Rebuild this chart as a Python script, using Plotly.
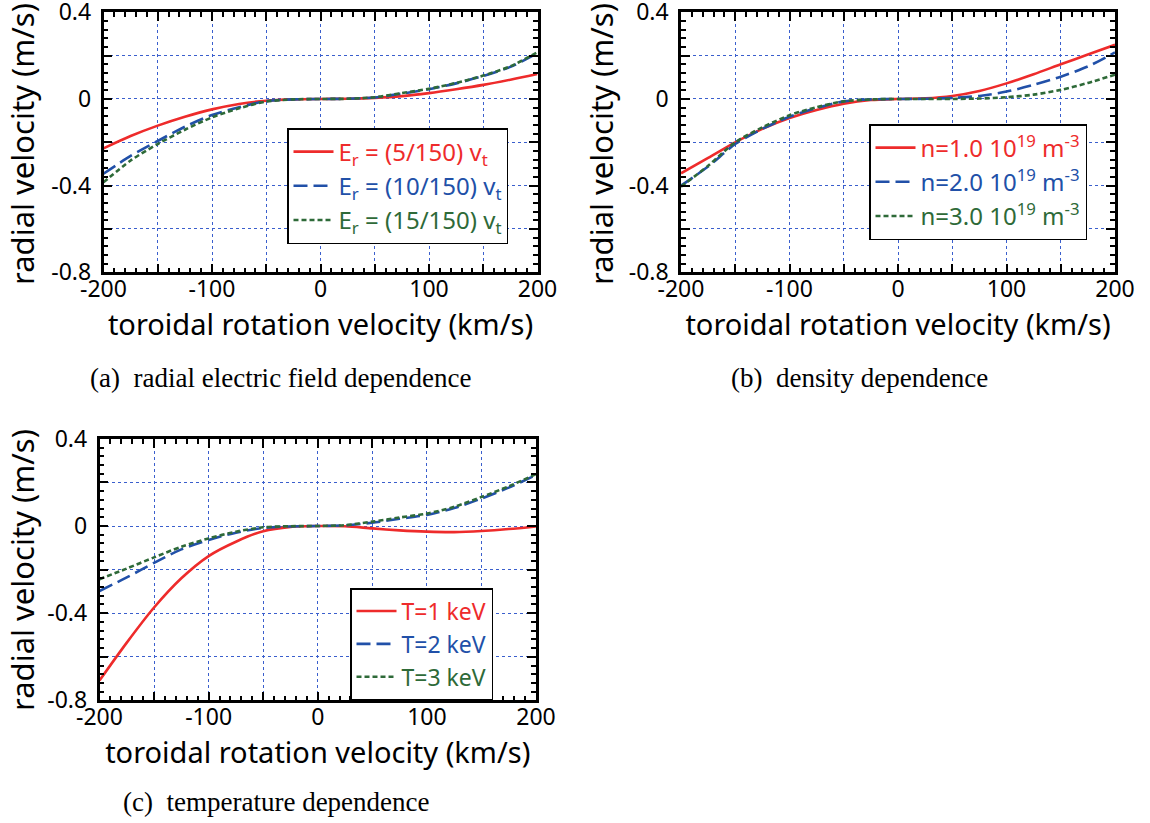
import plotly.graph_objects as go

# toroidal rotation velocity (km/s)
v_tor = [-200, -175, -150, -125, -100, -75, -50, -25, 0, 25, 50, 75, 100, 125, 150, 175, 200]

# (a) radial electric field dependence
a_er5 = [-0.228, -0.171, -0.123, -0.082, -0.048, -0.023, -0.008, -0.002, 0, 0.001, 0.005, 0.013, 0.027, 0.045, 0.065, 0.089, 0.115]
a_er10 = [-0.345, -0.263, -0.194, -0.128, -0.074, -0.038, -0.010, -0.002, 0, 0.001, 0.007, 0.025, 0.045, 0.072, 0.106, 0.148, 0.212]
a_er15 = [-0.385, -0.284, -0.208, -0.142, -0.085, -0.043, -0.012, -0.002, 0, 0.001, 0.008, 0.027, 0.047, 0.074, 0.108, 0.151, 0.216]

# (b) density dependence
b_n1 = [-0.343, -0.272, -0.200, -0.138, -0.088, -0.051, -0.022, -0.005, 0, 0.003, 0.014, 0.037, 0.072, 0.114, 0.160, 0.205, 0.250]
b_n2 = [-0.400, -0.312, -0.208, -0.138, -0.082, -0.042, -0.011, -0.002, 0, 0.001, 0.005, 0.014, 0.034, 0.065, 0.103, 0.150, 0.215]
b_n3 = [-0.405, -0.308, -0.200, -0.131, -0.075, -0.038, -0.011, -0.002, 0, 0.000, 0.000, 0.002, 0.008, 0.020, 0.042, 0.074, 0.112]

# (c) temperature dependence
c_t1 = [-0.709, -0.535, -0.374, -0.240, -0.138, -0.072, -0.024, -0.004, 0, -0.001, -0.011, -0.020, -0.026, -0.028, -0.023, -0.014, -0.002]
c_t2 = [-0.298, -0.236, -0.169, -0.107, -0.064, -0.031, -0.009, -0.002, 0, 0.003, 0.015, 0.033, 0.051, 0.082, 0.126, 0.176, 0.234]
c_t3 = [-0.244, -0.195, -0.144, -0.095, -0.057, -0.026, -0.006, -0.001, 0, 0.004, 0.020, 0.039, 0.057, 0.088, 0.133, 0.182, 0.238]

# tick positions and labels (grid at every tick, label every other)
x_tickvals = [-200, -150, -100, -50, 0, 50, 100, 150, 200]
x_ticktext = ["-200", " ", "-100", " ", "0", " ", "100", " ", "200"]
y_tickvals = [-0.8, -0.6, -0.4, -0.2, 0, 0.2, 0.4]
y_ticktext = ["-0.8", " ", "-0.4", " ", "0", " ", "0.4"]

x_title = "toroidal rotation velocity (km/s)"
y_title = "radial velocity (m/s)"
names_a = ["E<sub>r</sub> = (5/150) v<sub>t</sub>", "E<sub>r</sub> = (10/150) v<sub>t</sub>", "E<sub>r</sub> = (15/150) v<sub>t</sub>"]
names_b = ["n=1.0 10<sup>19</sup> m<sup>-3</sup>", "n=2.0 10<sup>19</sup> m<sup>-3</sup>", "n=3.0 10<sup>19</sup> m<sup>-3</sup>"]
names_c = ["T=1 keV", "T=2 keV", "T=3 keV"]
captions = ["(a)\u00a0\u00a0radial electric field dependence", "(b)\u00a0\u00a0density dependence",
            "(c)\u00a0\u00a0temperature dependence"]

RED, BLUE, GREEN = "#ee2b2b", "#2150a8", "#2e6a38"
colors = [RED, BLUE, GREEN]
dashes = ["solid", "14px,6px", "5px,3px"]
W, H = 1150, 823
SANS = "Noto Sans"
SERIF = "Liberation Serif"
GRID = "#3a5fcd"

fig = go.Figure()
panels = [
    ("x", "y", "legend", [a_er5, a_er10, a_er15], names_a),
    ("x2", "y2", "legend2", [b_n1, b_n2, b_n3], names_b),
    ("x3", "y3", "legend3", [c_t1, c_t2, c_t3], names_c),
]
for xa, ya, lg, series, names in panels:
    for s, nm, col, dsh in zip(series, names, colors, dashes):
        fig.add_trace(go.Scatter(
            x=v_tor, y=s, mode="lines", line=dict(color=col, width=2.6, dash=dsh, shape="spline", smoothing=0.8),
            name=f'<span style="color:{col}">{nm}</span>', xaxis=xa, yaxis=ya, legend=lg, hoverinfo="skip"))


def xax(domain, anchor):
    return dict(domain=domain, anchor=anchor, range=[-200, 200], tickmode="array", tickvals=x_tickvals,
                ticktext=x_ticktext, ticks="inside", ticklen=9, tickwidth=2, tickcolor="black",
                showline=True, linewidth=2.5, linecolor="black", mirror="ticks", automargin=False,
                showgrid=True, gridcolor=GRID, griddash="dot", gridwidth=1, zeroline=False,
                minor=dict(tickmode="linear", tick0=0, dtick=10, ticks="inside", ticklen=5, tickwidth=1.5,
                           tickcolor="black", showgrid=False),
                ticklabelstandoff=-6, ticklabeloverflow="allow",
                tickfont=dict(family=SANS, size=23, color="black"),
                title=dict(text=x_title, font=dict(family=SANS, size=29, color="black"), standoff=0))


def yax(domain, anchor):
    return dict(domain=domain, anchor=anchor, range=[-0.8, 0.4], tickmode="array", tickvals=y_tickvals,
                ticktext=y_ticktext, ticks="inside", ticklen=9, tickwidth=2, tickcolor="black",
                showline=True, linewidth=2.5, linecolor="black", mirror="ticks", automargin=False,
                showgrid=True, gridcolor=GRID, griddash="dot", gridwidth=1, zeroline=False,
                minor=dict(tickmode="linear", tick0=0, dtick=0.04, ticks="inside", ticklen=5, tickwidth=1.5,
                           tickcolor="black", showgrid=False),
                ticklabelstandoff=5, ticklabeloverflow="allow",
                tickfont=dict(family=SANS, size=23, color="black"))


def px(v):
    return v / W


def py(v):
    return 1 - v / H


legend_common = dict(bgcolor="white", bordercolor="black", borderwidth=1.5, xanchor="left", yanchor="top",
                     itemwidth=40)

annots = []
for txt, cx, cy in zip(captions, [281, 859, 276], [378, 378, 802]):
    annots.append(dict(text=txt, x=px(cx), y=py(cy), xref="paper", yref="paper", xanchor="center",
                       yanchor="middle", showarrow=False, font=dict(family=SERIF, size=27, color="black")))
for cx, cy in [(22, 144), (601, 144), (22, 570)]:
    annots.append(dict(text=y_title, x=px(cx), y=py(cy), xref="paper", yref="paper", xanchor="center",
                       yanchor="middle", textangle=-90, showarrow=False,
                       font=dict(family=SANS, size=31, color="black")))

fig.update_layout(
    width=W, height=H, margin=dict(l=0, r=0, t=0, b=0), paper_bgcolor="white", plot_bgcolor="white",
    xaxis=xax([px(103.5), px(537.5)], "y"), yaxis=yax([py(272.3), py(12.3)], "x"),
    xaxis2=xax([px(681), px(1115)], "y2"), yaxis2=yax([py(272.3), py(12.3)], "x2"),
    xaxis3=xax([px(99.5), px(536)], "y3"), yaxis3=yax([py(700.4), py(438.8)], "x3"),
    legend=dict(x=px(287), y=py(128), font=dict(family=SANS, size=24), **legend_common),
    legend2=dict(x=px(869), y=py(124), font=dict(family=SANS, size=24), **legend_common),
    legend3=dict(x=px(350), y=py(588), font=dict(family=SANS, size=23), **legend_common),
    showlegend=True,
    annotations=annots,
)

fig.write_html("out.html", config={"displayModeBar": False},
               post_script="document.body.style.margin='0';")
